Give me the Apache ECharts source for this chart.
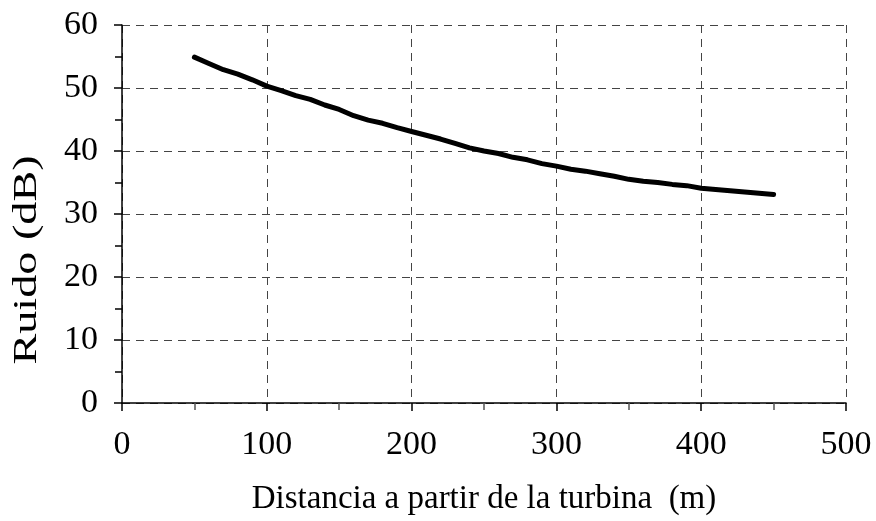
<!DOCTYPE html>
<html>
<head>
<meta charset="utf-8">
<script src="https://cdn.jsdelivr.net/npm/echarts@6/dist/echarts.min.js"></script>
<style>
html,body{margin:0;padding:0;background:#fff;}
#c{width:876px;height:521px;}
</style>
</head>
<body>
<div id="c"></div>
<script>
var distances = [50,60,70,80,90,100,110,120,130,140,150,160,170,180,190,200,210,220,230,240,250,260,270,280,290,300,310,320,330,340,350,360,370,380,390,400,410,420,430,440,450];
var noise = [54.9,53.9,52.9,52.2,51.3,50.3,49.6,48.8,48.2,47.3,46.6,45.6,44.9,44.4,43.7,43.1,42.5,41.9,41.2,40.5,40.0,39.6,39.0,38.6,38.0,37.6,37.1,36.8,36.4,36.0,35.5,35.2,35.0,34.7,34.5,34.1,33.9,33.7,33.5,33.3,33.1];
var xTitle = 'Distancia a partir de la turbina  (m)';
var yTitle = 'Ruido (dB)';

var chart = echarts.init(document.getElementById('c'), null, {renderer:'canvas'});
var font = '"Liberation Serif", "Times New Roman", serif';
var pts = distances.map(function(d,i){return [d, noise[i]];});
chart.setOption({
  animation:false,
  backgroundColor:'#fff',
  grid:{left:122,right:30,top:25,bottom:117,containLabel:false},
  graphic:[{
    type:'text',x:27,y:260,rotation:Math.PI/2,scaleX:1.4,
    style:{text:yTitle,fontFamily:font,fontSize:33,fill:'#000',align:'center',verticalAlign:'middle'}
  }],
  xAxis:{
    type:'value',min:0,max:500,interval:100,
    name:xTitle,nameLocation:'middle',nameGap:80,
    nameTextStyle:{fontFamily:font,fontSize:33,color:'#000'},
    axisLine:{show:true,onZero:false,lineStyle:{color:'#000',width:1.5}},
    axisTick:{show:true,length:8,lineStyle:{color:'#000',width:1.5}},
    minorTick:{show:true,splitNumber:2,length:7,lineStyle:{color:'#555',width:1.5}},
    axisLabel:{fontFamily:font,fontSize:34,color:'#000',margin:25},
    splitLine:{show:true,lineStyle:{color:'#444',width:1,type:[8,6]}}
  },
  yAxis:{
    type:'value',min:0,max:60,interval:10,
    axisLine:{show:true,lineStyle:{color:'#000',width:1.5}},
    axisTick:{show:true,length:8,lineStyle:{color:'#000',width:1.5}},
    minorTick:{show:true,splitNumber:2,length:7,lineStyle:{color:'#000',width:1.5}},
    axisLabel:{fontFamily:font,fontSize:34,color:'#000',margin:24},
    splitLine:{show:true,lineStyle:{color:'#444',width:1,type:[8,6]}}
  },
  series:[{
    type:'line',data:pts,showSymbol:false,symbol:'none',
    lineStyle:{color:'#000',width:5,cap:'round',join:'round'}
  }]
});
</script>
</body>
</html>
